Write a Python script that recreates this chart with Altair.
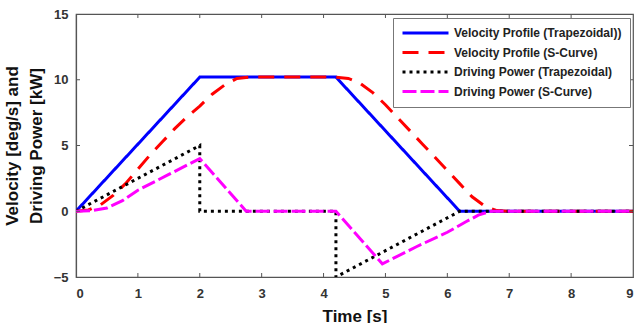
import altair as alt
import pandas as pd

# Time / value samples for each curve
t_vel_trap = [0.0, 2.0, 4.2, 6.2, 9.0]
v_vel_trap = [0.0, 10.2, 10.2, 0.0, 0.0]

t_vel_s = [0.0, 0.2, 0.4, 0.6, 0.8, 1.0, 1.2, 1.4, 1.6, 1.8, 2.0, 2.2, 2.4, 2.6, 2.8,
           4.2, 4.4, 4.6, 4.8, 5.0, 5.2, 5.4, 5.6, 5.8, 6.0, 6.2, 6.4, 6.6, 6.8, 7.0, 9.0]
v_vel_s = [0.0, 0.1, 0.5, 1.2, 2.1, 3.2, 4.3, 5.3, 6.3, 7.2, 8.0, 8.9, 9.6, 10.1, 10.2,
           10.2, 10.1, 9.7, 9.0, 8.1, 7.1, 6.1, 5.1, 4.1, 3.1, 2.1, 1.1, 0.4, 0.05, 0.0, 0.0]

t_pow_trap = [0.0, 2.0, 2.0, 4.2, 4.2, 6.2, 9.0]
v_pow_trap = [0.0, 5.0, 0.0, 0.0, -5.0, 0.0, 0.0]

t_pow_s = [0.0, 0.25, 0.5, 0.75, 1.0, 1.5, 2.0, 2.75, 4.2, 4.95, 5.5, 6.0, 6.3, 6.5, 6.7, 9.0]
v_pow_s = [0.0, 0.05, 0.25, 0.8, 1.6, 2.8, 4.0, 0.0, 0.0, -4.0, -2.7, -1.6, -0.8, -0.3, 0.0, 0.0]

series_names = [
    "Velocity Profile (Trapezoidal))",
    "Velocity Profile (S-Curve)",
    "Driving Power (Trapezoidal)",
    "Driving Power (S-Curve)",
]
series_colors = ["#0000ff", "#ff0000", "#000000", "#ff00ff"]
series_dashes = [[1, 0], [16, 10], [3, 4], [14, 4]]

x_ticks = [0, 1, 2, 3, 4, 5, 6, 7, 8, 9]
y_ticks = [-5, 0, 5, 10, 15]

rows = []
for name, ts, vs in zip(series_names,
                        [t_vel_trap, t_vel_s, t_pow_trap, t_pow_s],
                        [v_vel_trap, v_vel_s, v_pow_trap, v_pow_s]):
    for i, (t, v) in enumerate(zip(ts, vs)):
        rows.append({"series": name, "t": t, "v": v, "order": i})
df = pd.DataFrame(rows)

W, H = 557, 263
FONT = "Liberation Sans"

x_scale = alt.Scale(domain=[0, 9], nice=False, zero=False)
y_scale = alt.Scale(domain=[-5, 15], nice=False, zero=False)

legend = alt.Legend(title=None, orient="none", legendX=317, legendY=4)

lines = alt.Chart(df).mark_line(strokeWidth=3, clip=True).encode(
    x=alt.X("t:Q", scale=x_scale,
            axis=alt.Axis(title="Time [s]", values=x_ticks, format="d", grid=False,
                          ticks=False, labelPadding=10, titlePadding=8)),
    y=alt.Y("v:Q", scale=y_scale,
            axis=alt.Axis(title=["Velocity [deg/s] and", "Driving Power [kW]"],
                          values=y_ticks, format="d", grid=False, ticks=False,
                          labelPadding=8, titlePadding=8)),
    color=alt.Color("series:N",
                    scale=alt.Scale(domain=series_names, range=series_colors),
                    legend=legend),
    strokeDash=alt.StrokeDash("series:N",
                              scale=alt.Scale(domain=series_names, range=series_dashes),
                              legend=legend),
    order="order:Q",
)

# Inward tick marks on all four sides of the frame
xt = pd.DataFrame({"t": x_ticks[1:-1]})
yt = pd.DataFrame({"v": y_ticks[1:-1]})
tick_color = "#555555"

bottom_ticks = alt.Chart(xt).mark_rule(color=tick_color, strokeWidth=1).encode(
    x=alt.X("t:Q", scale=x_scale), y=alt.value(H), y2=alt.value(H - 4))
top_ticks = alt.Chart(xt).mark_rule(color=tick_color, strokeWidth=1).encode(
    x=alt.X("t:Q", scale=x_scale), y=alt.value(0), y2=alt.value(4))
left_ticks = alt.Chart(yt).mark_rule(color=tick_color, strokeWidth=1).encode(
    y=alt.Y("v:Q", scale=y_scale), x=alt.value(0), x2=alt.value(4))
right_ticks = alt.Chart(yt).mark_rule(color=tick_color, strokeWidth=1).encode(
    y=alt.Y("v:Q", scale=y_scale), x=alt.value(W), x2=alt.value(W - 4))

chart = alt.layer(lines, bottom_ticks, top_ticks, left_ticks, right_ticks).properties(
    width=W, height=H,
    autosize=alt.AutoSizeParams(type="none"),
    padding={"left": 76, "top": 14, "right": 7, "bottom": 46},
    background="white",
).configure_view(
    stroke=tick_color, strokeWidth=1.2,
).configure_axis(
    domainColor=tick_color, domainWidth=1.2,
    labelFont=FONT, labelFontSize=13, labelFontWeight="bold", labelColor="#333333",
    titleFont=FONT, titleFontSize=17, titleFontWeight="bold", titleColor="#111111",
).configure_axisY(
    titleLineHeight=24,
).configure_legend(
    symbolType="stroke", symbolSize=2116, symbolStrokeWidth=3,
    labelFont=FONT, labelFontSize=12, labelFontWeight="bold", labelColor="#222222",
    labelOffset=4, labelLimit=300,
    strokeColor="#777777", fillColor="white", padding=8,
    clipHeight=14, rowPadding=5.5,
)

chart.save("out.html", embed_options={"renderer": "svg", "actions": False})
